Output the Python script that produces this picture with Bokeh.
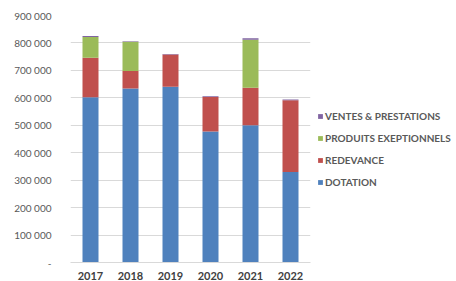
from bokeh.plotting import figure
from bokeh.models import Legend, LegendItem, ColumnDataSource, FixedTicker, CustomJSTickFormatter
from bokeh.embed import file_html
from bokeh.resources import INLINE

years = ["2017", "2018", "2019", "2020", "2021", "2022"]
dotation = [602000, 634000, 640000, 477000, 500000, 330000]
redevance = [144000, 64000, 118000, 126000, 137000, 261000]
produits_exceptionnels = [76000, 106000, 0, 0, 175000, 0]
ventes_prestations = [3000, 2000, 2000, 3000, 5000, 3000]
y_ticks = [0, 100000, 200000, 300000, 400000, 500000, 600000, 700000, 800000, 900000]

series = ["dotation", "redevance", "produits", "ventes"]
labels = ["DOTATION", "REDEVANCE", "PRODUITS EXEPTIONNELS", "VENTES & PRESTATIONS"]
colors = ["#4F81BD", "#C0504D", "#9BBB59", "#8064A2"]

source = ColumnDataSource(dict(years=years, dotation=dotation, redevance=redevance,
                               produits=produits_exceptionnels, ventes=ventes_prestations))

p = figure(x_range=years, y_range=(0, 900000), frame_width=240, frame_height=247,
           output_backend="svg", toolbar_location=None,
           min_border_left=70, min_border_top=15, min_border_right=10, min_border_bottom=2)

renderers = p.vbar_stack(series, x="years", width=0.4, color=colors, source=source,
                         line_color=None)

p.outline_line_color = None
p.xgrid.grid_line_color = None
p.ygrid.grid_line_color = "#D9D9D9"
p.ygrid.grid_line_width = 1

p.yaxis.ticker = FixedTicker(ticks=y_ticks)
p.yaxis.formatter = CustomJSTickFormatter(code="""
if (tick == 0) { return "-"; }
return Math.round(tick).toString().replace(/\\B(?=(\\d{3})+(?!\\d))/g, " ");
""")
p.yaxis.axis_line_color = None
p.yaxis.major_tick_line_color = None
p.yaxis.minor_tick_line_color = None
p.yaxis.major_label_standoff = 13
p.yaxis.major_label_text_font = "Lato"
p.yaxis.major_label_text_font_size = "10px"
p.yaxis.major_label_text_color = "#595959"

p.xaxis.axis_line_color = "#D9D9D9"
p.xaxis.major_tick_line_color = None
p.xaxis.major_label_standoff = 3
p.xaxis.major_label_text_font = "Lato"
p.xaxis.major_label_text_font_size = "11px"
p.xaxis.major_label_text_color = "#404040"
p.xaxis.major_label_text_font_style = "bold"

items = [LegendItem(label=labels[i], renderers=[renderers[i]]) for i in [3, 2, 1, 0]]
legend = Legend(items=items, location=(7, 74), orientation="vertical")
legend.border_line_color = None
legend.background_fill_alpha = 0
legend.padding = 0
legend.margin = 10
legend.spacing = 10
legend.label_height = 12
legend.glyph_width = 6
legend.glyph_height = 6
legend.label_standoff = 2
legend.label_text_font = "Lato"
legend.label_text_font_size = "10px"
legend.label_text_color = "#595959"
legend.label_text_font_style = "bold"
p.add_layout(legend, "right")

open("out.html", "w").write(file_html(p, INLINE))
